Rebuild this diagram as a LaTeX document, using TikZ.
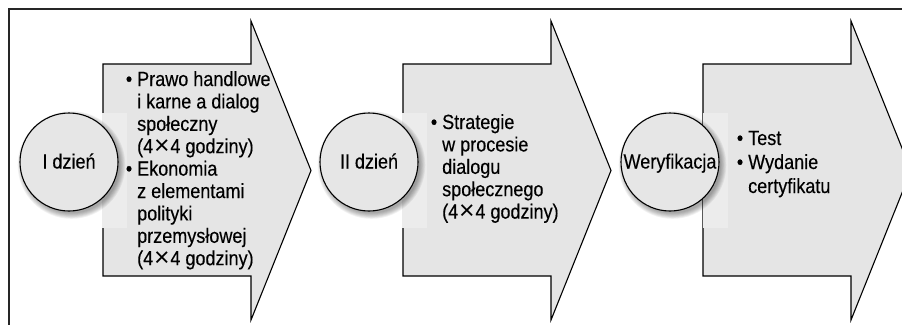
\documentclass[tikz,border=0pt]{standalone}
\usepackage{fontspec}
\setmainfont{Liberation Sans}[FakeStretch=0.88, FakeBold=0.3]
\newfontfamily\thinfont{Liberation Sans}
\definecolor{arrowgray}{HTML}{E5E5E5}
\definecolor{halogray}{HTML}{ECECEC}
\definecolor{circgray}{HTML}{E6E6E6}
\newcommand{\bul}{\leavevmode\llap{\textbullet\hspace{5pt}}}
\newcommand{\tms}{\hspace{0.8pt}\raisebox{-0.06em}{\scalebox{1.3}{\thinfont ×}}\hspace{0.8pt}}
\newcommand{\listfont}{\fontsize{20.5}{22.4}\selectfont}
\begin{document}
\begin{tikzpicture}[x=1pt,y=-1pt,
  frameline/.style={draw=black!85, line width=1.2pt},
  arrowshape/.style={draw=black, line width=1.1pt, fill=arrowgray, line join=miter},
  halo/.style={fill=halogray, draw=none},
  daycircle/.style={circle, draw=black, line width=1.1pt, fill=circgray, minimum size=98pt, inner sep=0pt},
  daylabel/.style={anchor=base, inner sep=0pt, font=\listfont},
  listtext/.style={anchor=base west, inner sep=0pt}
]
\useasboundingbox (0,0) rectangle (902,324);
\clip (0,0) rectangle (902,324);
\fill[white] (0,0) rectangle (902,324);
\draw[frameline] (9,330) -- (9,9) -- (910,9);

% arrows
\foreach \dx in {0,300,600}{
  \begin{scope}[shift={(\dx,0)}]
    \draw[arrowshape] (103,64) -- (251,64) -- (251,21) -- (311,170.5) -- (251,320) -- (251,276) -- (103,276) -- cycle;
  \end{scope}
}

% halos, shadows and circles
\foreach \cx/\nm in {69/c1,369/c2,670/c3}{
  \fill[halo] (102.4+\cx-69,113) rectangle (\cx+58,228);
  \foreach \i in {1,...,7}{
    \fill[black, opacity=0.055] (\cx+2.5,165) circle ({47.5+\i*0.9});
  }
  \node[daycircle] (\nm) at (\cx,162) {};
}

\node[daylabel] (l1) at (69,168.5) {I dzień};
\node[daylabel] (l2) at (369,168.5) {II dzień};
\node[daylabel] (l3) at (670,168.5) {Weryfikacja};

\node[listtext] (t1) at (137,86) {\parbox[t]{220pt}{\raggedright\listfont
\bul Prawo handlowe\\
i karne a dialog\\
społeczny\\
(4\tms4 godziny)\\
\bul Ekonomia\\
z elementami\\
polityki\\
przemysłowej\\
(4\tms4 godziny)}};

\node[listtext] (t2) at (442,129) {\parbox[t]{220pt}{\raggedright\listfont
\bul Strategie\\
w procesie\\
dialogu\\
społecznego\\
(4\tms4 godziny)}};

\node[listtext] (t3) at (748,145) {\parbox[t]{140pt}{\raggedright\fontsize{20.5}{24}\selectfont
\bul Test\\
\bul Wydanie\\
certyfikatu}};
\end{tikzpicture}
\end{document}
